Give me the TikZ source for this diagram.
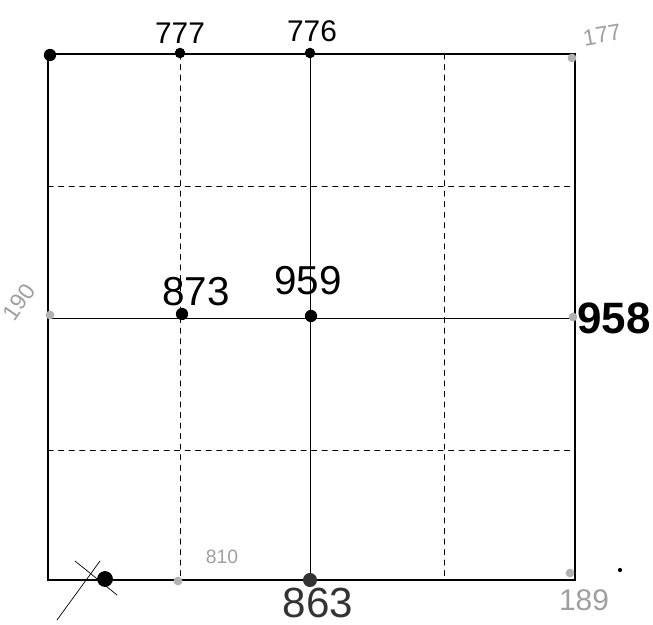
\documentclass[tikz,border=0pt]{standalone}
\usepackage{fontspec}
\setmainfont{Liberation Sans}
\usetikzlibrary{arrows.meta}
\begin{document}
\begin{tikzpicture}[x=0.02cm,y=-0.02cm,line cap=round,
  pin/.style={circle,fill=black,inner sep=0pt,minimum size=#1},
  faint/.style={circle,fill=gray!60,inner sep=0pt,minimum size=5pt},
  num/.style={inner sep=0pt,font=\fontsize{17}{17}\selectfont},
  ghost/.style={inner sep=0pt,text=gray!75,font=\fontsize{13}{13}\selectfont}]
\useasboundingbox (0,0) rectangle (653,625);
% inner grid
\draw[dashed,thin] (180,54) -- (180,580);
\draw[dashed,thin] (444,54) -- (444,580);
\draw[dashed,thin] (48,186) -- (575,186);
\draw[dashed,thin] (48,450) -- (575,450);
\draw[thin] (310,54) -- (310,580);
\draw[thin] (48,318) -- (575,318);
% outer frame
\draw[line width=1.6pt] (48,54) rectangle (575,580);
% points
\node[pin=7pt] (tl) at (50,55) {};
\node[pin=6pt] (t1) at (180,53) {};
\node[pin=6pt] (t2) at (310,53) {};
\node[pin=7pt] (m1) at (182,314) {};
\node[pin=7pt] (m2) at (311,316) {};
\node[pin=9pt] (bl) at (105,579) {};
\node[pin=8pt,fill=black!80] (b2) at (310,580) {};
\node[faint] (tr) at (572,58) {};
\node[faint] (ml) at (50,315) {};
\node[faint] (mr) at (573,317) {};
\node[faint] (b1) at (178,581) {};
\node[faint] (br) at (570,573) {};
\fill (620,570) circle (1.2pt);
\draw[thin] (57,620) -- (100,561);
\draw[thin] (75,561) -- (117,595);
% labels
\node[num] (l777) at (180,33) {777};
\node[num] (l776) at (312,31) {776};
\node[num,font=\fontsize{23}{23}\selectfont] (l873) at (196,292) {873};
\node[num,font=\fontsize{23}{23}\selectfont] (l959) at (308,281) {959};
\node[inner sep=0pt,font=\bfseries\fontsize{25}{25}\selectfont] (l958) at (614,318) {958};
\node[num,font=\fontsize{24}{24}\selectfont,text=black!80] (l863) at (318,603) {863};
\node[ghost,rotate=10] (l177) at (602,35) {177};
\node[ghost,rotate=55] (l190) at (19,302) {190};
\node[ghost,font=\fontsize{11}{11}\selectfont] (l810) at (222,557) {810};
\node[ghost,font=\fontsize{17}{17}\selectfont] (l189) at (584,600) {189};
\end{tikzpicture}
\end{document}
